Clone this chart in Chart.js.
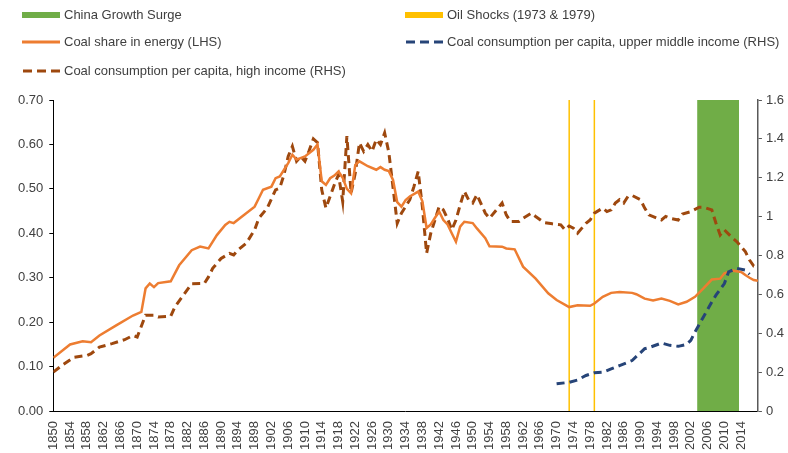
<!DOCTYPE html>
<html>
<head>
<meta charset="utf-8">
<script src="https://cdn.jsdelivr.net/npm/chart.js@4.4.1/dist/chart.umd.min.js"></script>
<style>
  body { margin: 0; background: #fff; font-family: "Liberation Sans", Arial, sans-serif; }
  #wrap { position: relative; width: 788px; height: 453px; }
  #legend { position: absolute; left: 0; top: 0; width: 788px; height: 90px; }
  .item { position: absolute; display: flex; align-items: center; font-size: 13px; color: #404040; white-space: nowrap; }
  .item svg { margin-right: 4px; }
</style>
</head>
<body>
<div id="wrap">
  <canvas id="coalChart" width="788" height="453"></canvas>
  <div id="legend"></div>
</div>
<script>
// coal share in energy (LHS)
var shareYears = [1850, 1854, 1857, 1859, 1861, 1865, 1869, 1871, 1872, 1873, 1874, 1875, 1878, 1880, 1883,
  1885, 1887, 1889, 1891, 1892, 1893, 1895, 1898, 1899, 1900, 1902, 1903, 1904, 1906, 1907, 1908, 1910,
  1912, 1913, 1914, 1915, 1916, 1917, 1918, 1919, 1920, 1921, 1922, 1923, 1925, 1927, 1928, 1929, 1930,
  1931, 1932, 1933, 1934, 1935, 1937, 1938, 1939, 1940, 1941, 1942, 1943, 1944, 1945, 1946, 1947, 1948,
  1950, 1951, 1953, 1954, 1957, 1958, 1960, 1962, 1965, 1968, 1970, 1973, 1975, 1978, 1979, 1981, 1983,
  1985, 1988, 1989, 1991, 1993, 1995, 1997, 1999, 2001, 2003, 2005, 2007, 2009, 2010, 2012, 2014, 2015,
  2016, 2017, 2018];
var shareValues = [0.120, 0.150, 0.157, 0.155, 0.170, 0.193, 0.215, 0.223, 0.276, 0.287, 0.279, 0.288, 0.292, 0.328, 0.362,
  0.370, 0.366, 0.396, 0.419, 0.426, 0.423, 0.438, 0.460, 0.479, 0.498, 0.505, 0.524, 0.528, 0.558, 0.577, 0.566, 0.573,
  0.588, 0.600, 0.517, 0.509, 0.524, 0.530, 0.539, 0.525, 0.500, 0.490, 0.554, 0.562, 0.551, 0.543, 0.549, 0.543, 0.540,
  0.520, 0.470, 0.460, 0.475, 0.483, 0.494, 0.472, 0.412, 0.420, 0.435, 0.449, 0.430, 0.420, 0.400, 0.381, 0.415, 0.426,
  0.423, 0.411, 0.389, 0.371, 0.370, 0.366, 0.364, 0.325, 0.298, 0.265, 0.250, 0.234, 0.238, 0.237, 0.242, 0.257, 0.266,
  0.268, 0.266, 0.263, 0.253, 0.249, 0.253, 0.248, 0.240, 0.246, 0.257, 0.276, 0.296, 0.298, 0.310, 0.316, 0.313, 0.306,
  0.300, 0.295, 0.293];

// coal consumption per capita, high income (RHS)
var highYears = [1850, 1852, 1855, 1858, 1859, 1861, 1864, 1867, 1869, 1870, 1872, 1874, 1875, 1878, 1879, 1881,
  1883, 1886, 1887, 1888, 1890, 1892, 1893, 1894, 1896, 1898, 1899, 1901, 1903, 1904, 1905, 1906, 1907, 1908,
  1909, 1910, 1911, 1912, 1913, 1914, 1915, 1916, 1917, 1918, 1919, 1920, 1921, 1922, 1923, 1924, 1925, 1926,
  1927, 1928, 1929, 1930, 1931, 1932, 1933, 1935, 1936, 1937, 1938, 1939, 1940, 1942, 1943, 1944, 1945, 1946,
  1947, 1948, 1949, 1950, 1951, 1953, 1954, 1956, 1957, 1958, 1959, 1961, 1962, 1964, 1965, 1967, 1969, 1971,
  1972, 1973, 1974, 1975, 1977, 1978, 1979, 1981, 1982, 1983, 1984, 1985, 1986, 1987, 1988, 1990, 1991, 1992,
  1995, 1996, 1997, 1999, 2000, 2002, 2004, 2005, 2007, 2008, 2009, 2010, 2012, 2013, 2015, 2016, 2017, 2018];
var highValues = [0.200, 0.234, 0.277, 0.286, 0.295, 0.329, 0.347, 0.367, 0.389, 0.381, 0.493, 0.493, 0.484, 0.488, 0.536, 0.596,
  0.655, 0.656, 0.690, 0.734, 0.785, 0.811, 0.803, 0.828, 0.863, 0.932, 0.992, 1.044, 1.138, 1.147, 1.216, 1.310, 1.362, 1.285,
  1.310, 1.285, 1.340, 1.400, 1.380, 1.138, 1.044, 1.104, 1.164, 1.216, 1.078, 1.414, 1.121, 1.225, 1.380, 1.336, 1.371, 1.336,
  1.397, 1.371, 1.431, 1.330, 1.150, 0.966, 1.018, 1.087, 1.156, 1.233, 1.050, 0.811, 0.915, 1.052, 1.035, 0.990, 0.932, 0.983,
  1.060, 1.130, 1.087, 1.070, 1.113, 1.018, 0.992, 1.044, 1.070, 1.009, 0.975, 0.975, 0.992, 1.018, 1.001, 0.970, 0.963, 0.958,
  0.932, 0.952, 0.941, 0.915, 0.966, 0.983, 1.018, 1.044, 1.026, 1.035, 1.070, 1.087, 1.070, 1.104, 1.109, 1.087, 1.044, 1.009,
  0.983, 1.001, 0.992, 0.983, 1.014, 1.026, 1.049, 1.049, 1.035, 0.966, 0.906, 0.932, 0.889, 0.871, 0.820, 0.777, 0.746, 0.746];

// coal consumption per capita, upper middle income (RHS)
var umYears = [1970, 1973, 1975, 1977, 1979, 1981, 1983, 1985, 1988, 1991, 1992, 1995, 1997, 1999, 2001, 2002,
  2003, 2005, 2007, 2008, 2010, 2011, 2013, 2015, 2016];
var umValues = [0.140, 0.148, 0.160, 0.183, 0.197, 0.200, 0.217, 0.234, 0.260, 0.321, 0.326, 0.350, 0.338, 0.333, 0.343, 0.364,
  0.407, 0.484, 0.561, 0.596, 0.656, 0.716, 0.734, 0.725, 0.704];

// highlighted periods (first and last year covered)
var chinaSurge = [2004, 2013];
var oilShocks = [1973, 1979];

var xTickYears = [];
for (var yr = 1850; yr <= 2014; yr += 4) xTickYears.push(yr);

function pts(xs, ys) {
  return xs.map(function (x, i) { return { x: x, y: ys[i] }; });
}

var datasets = [
  {
    label: 'Coal consumption per capita, upper middle income (RHS)',
    data: pts(umYears, umValues), yAxisID: 'y1', order: 1,
    borderColor: '#264478', borderWidth: 3, borderDash: [8, 5]
  },
  {
    label: 'Coal share in energy (LHS)',
    data: pts(shareYears, shareValues), yAxisID: 'y', order: 2,
    borderColor: '#ED7D31', borderWidth: 2.5
  },
  {
    label: 'Coal consumption per capita, high income (RHS)',
    data: pts(highYears, highValues), yAxisID: 'y1', order: 3,
    borderColor: '#9E480E', borderWidth: 3, borderDash: [8, 5]
  },
  {
    label: 'Oil Shocks (1973 & 1979)',
    data: [{ x: oilShocks[0], y: 0 }, { x: oilShocks[0], y: 1.6 }], yAxisID: 'y1', order: 4,
    borderColor: '#FFC000', borderWidth: 1.5
  },
  {
    label: 'Oil Shocks 2',
    data: [{ x: oilShocks[1], y: 0 }, { x: oilShocks[1], y: 1.6 }], yAxisID: 'y1', order: 4,
    borderColor: '#FFC000', borderWidth: 1.5
  },
  {
    // each year drawn as a full-width column, so the band runs half a year either side
    label: 'China Growth Surge',
    data: [{ x: chinaSurge[0] - 0.5, y: 1.6 }, { x: chinaSurge[1] + 0.5, y: 1.6 }], yAxisID: 'y1', order: 5,
    borderWidth: 0, borderColor: 'rgba(0,0,0,0)', backgroundColor: '#70AD47', fill: 'origin'
  }
];
datasets.forEach(function (d) { d.pointRadius = 0; d.tension = 0; d.spanGaps = true; });

var tickFont = { family: '"Liberation Sans", Arial, sans-serif', size: 13 };

var chart = new Chart(document.getElementById('coalChart').getContext('2d'), {
  type: 'line',
  data: { datasets: datasets },
  options: {
    responsive: false,
    animation: false,
    layout: { padding: { left: 12, right: 0, top: 100, bottom: 1 } },
    plugins: { legend: { display: false }, tooltip: { enabled: false } },
    scales: {
      x: {
        type: 'linear', min: 1850, max: 2018,
        afterBuildTicks: function (scale) {
          scale.ticks = xTickYears.map(function (v) { return { value: v }; });
        },
        ticks: {
          minRotation: 90, maxRotation: 90, autoSkip: false, color: '#404040', font: tickFont, padding: 2,
          callback: function (v) { return String(v); }
        },
        grid: { display: false },
        border: { display: true, color: '#000', width: 1 }
      },
      y: {
        position: 'left', min: 0, max: 0.7,
        ticks: {
          stepSize: 0.1, color: '#404040', font: tickFont, padding: 6,
          callback: function (v) { return v.toFixed(2); }
        },
        grid: { drawOnChartArea: false, tickLength: 4, color: '#000' },
        border: { color: '#000', width: 1 }
      },
      y1: {
        position: 'right', min: 0, max: 1.6,
        ticks: {
          stepSize: 0.2, color: '#404040', font: tickFont, padding: 4,
          callback: function (v) { return String(+v.toFixed(1)); }
        },
        grid: { drawOnChartArea: false, tickLength: 4, color: '#595959' },
        border: { color: '#595959', width: 1.5 }
      }
    }
  }
});

// legend in two columns, built from the datasets
var legendItems = [
  { ds: 5, left: 22, top: 15, kind: 'bar' },
  { ds: 3, left: 405, top: 15, kind: 'bar' },
  { ds: 1, left: 22, top: 42, kind: 'line' },
  { ds: 0, left: 405, top: 42, kind: 'dash' },
  { ds: 2, left: 22, top: 71, kind: 'dash' }
];
var legendEl = document.getElementById('legend');
legendItems.forEach(function (it) {
  var d = chart.data.datasets[it.ds];
  var col = it.ds === 5 ? d.backgroundColor : d.borderColor;
  var sw;
  if (it.kind === 'bar') {
    sw = '<svg width="38" height="8"><rect x="0" y="1" width="38" height="6" fill="' + col + '"/></svg>';
  } else if (it.kind === 'line') {
    sw = '<svg width="38" height="8"><line x1="0" y1="4" x2="38" y2="4" stroke="' + col + '" stroke-width="3"/></svg>';
  } else {
    sw = '<svg width="38" height="8"><line x1="1" y1="4" x2="38" y2="4" stroke="' + col + '" stroke-width="3" stroke-dasharray="9 5"/></svg>';
  }
  var div = document.createElement('div');
  div.className = 'item';
  div.style.left = it.left + 'px';
  div.style.top = (it.top - 8) + 'px';
  div.innerHTML = sw + '<span>' + d.label + '</span>';
  legendEl.appendChild(div);
});
</script>
</body>
</html>
